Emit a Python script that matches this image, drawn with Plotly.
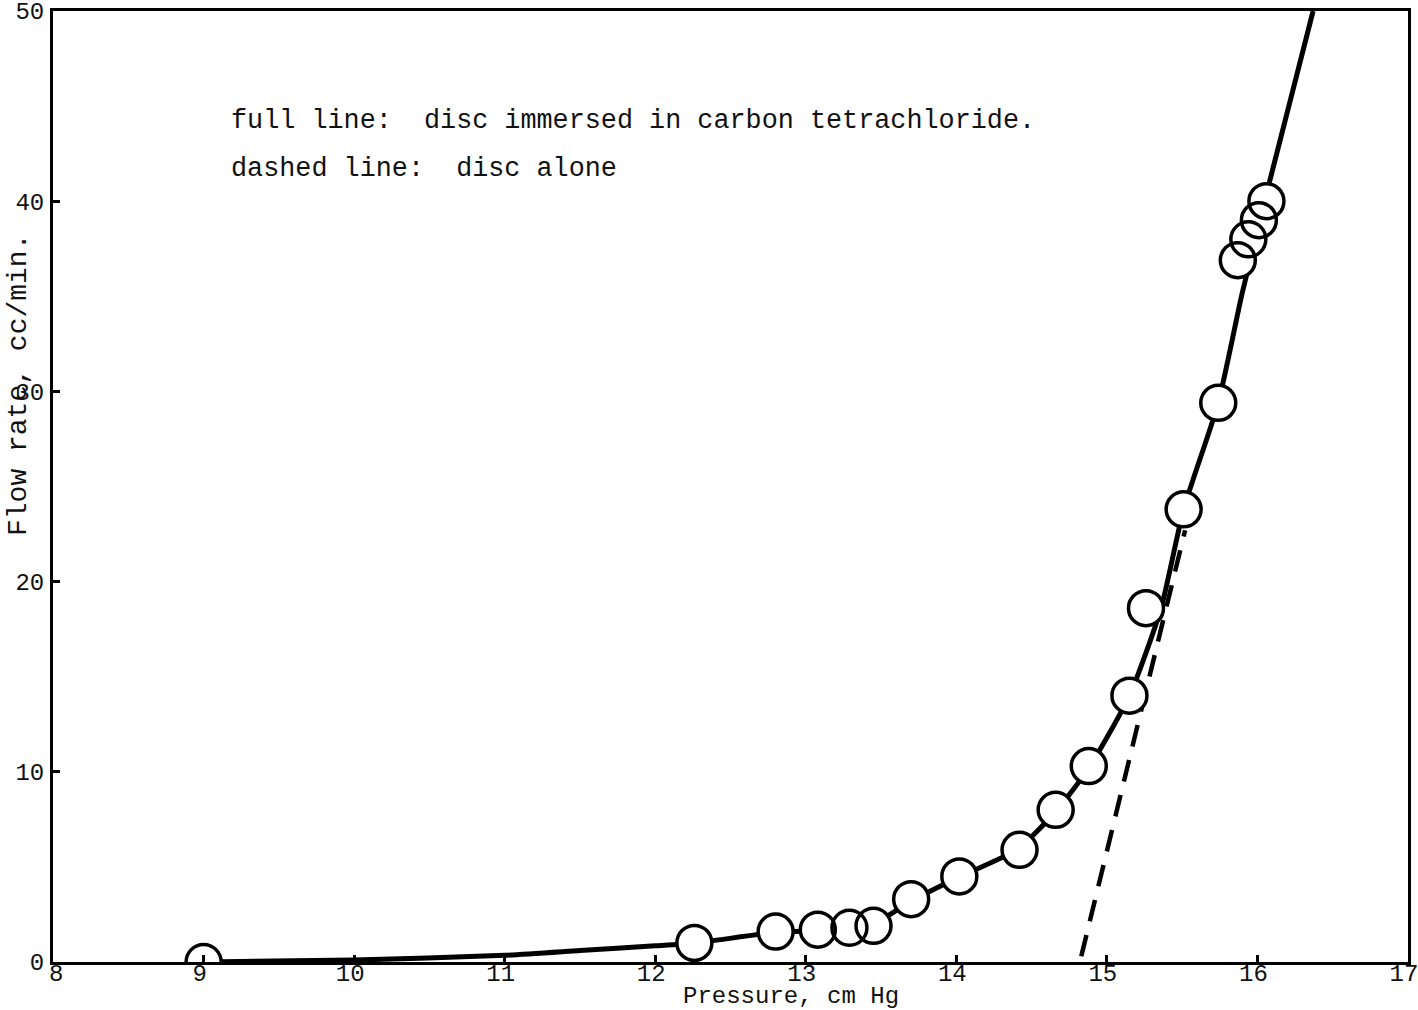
import plotly.graph_objects as go

# Measured points: disc immersed in carbon tetrachloride
pressure_pts = [9.0, 12.26, 12.80, 13.08, 13.29, 13.45, 13.70, 14.02, 14.42,
                14.66, 14.88, 15.15, 15.26, 15.51, 15.74, 15.87, 15.94, 16.01, 16.06]
flow_pts = [0.0, 1.0, 1.6, 1.7, 1.8, 1.9, 3.3, 4.5, 5.9,
            8.0, 10.3, 14.0, 18.6, 23.8, 29.4, 36.9, 38.0, 39.0, 40.0]

# Smooth curve drawn through the immersed-disc points (full line)
curve_pressure = [9.0, 10.0, 11.0, 11.5, 12.0, 12.26, 12.8, 13.1, 13.3, 13.45,
                  13.7, 14.0, 14.4, 14.66, 14.88, 15.15, 15.36, 15.51, 15.74,
                  15.90, 16.08, 16.37]
curve_flow = [0.0, 0.1, 0.35, 0.6, 0.85, 1.0, 1.55, 1.65, 1.8, 2.0,
              3.2, 4.4, 5.9, 7.9, 10.2, 14.0, 18.6, 23.8, 29.4,
              35.2, 41.0, 50.0]

# Disc alone (dashed line)
dashed_pressure = [14.83, 15.52]
dashed_flow = [0.3, 22.7]

x_ticks = [8, 9, 10, 11, 12, 13, 14, 15, 16, 17]
# the first label sits just right of the corner, clear of the y-axis "0"
x_ticktext = ["\u00a08", "9", "10", "11", "12", "13", "14", "15", "16", "17"]
y_ticks = [0, 10, 20, 30, 40, 50]

legend_lines = ["full line:  disc immersed in carbon tetrachloride.",
                "dashed line:  disc alone"]

FONT = "Liberation Mono, Courier New, monospace"
INK = "#111111"

W, H = 1418, 1010
ML, MR, MT, MB = 53, 10, 11, 48
plot_w = W - ML - MR
plot_h = H - MT - MB


def px_to_paper(px, py):
    """Convert a pixel position on the page to paper coordinates."""
    return (px - ML) / plot_w, 1 - (py - MT) / plot_h


fig = go.Figure()

fig.add_trace(go.Scatter(
    x=curve_pressure, y=curve_flow, mode="lines",
    line=dict(color="black", width=5, shape="spline", smoothing=0.6),
    hoverinfo="skip", showlegend=False))

fig.add_trace(go.Scatter(
    x=dashed_pressure, y=dashed_flow, mode="lines",
    line=dict(color="black", width=4.5, dash="22px,14px"),
    hoverinfo="skip", showlegend=False))

# white discs hide the curve inside each circle
fig.add_trace(go.Scatter(
    x=pressure_pts, y=flow_pts, mode="markers",
    marker=dict(symbol="circle", size=35, color="white", line=dict(width=0)),
    hoverinfo="skip", showlegend=False))

# circle outlines on top so overlapping rings stay visible
fig.add_trace(go.Scatter(
    x=pressure_pts, y=flow_pts, mode="markers",
    marker=dict(symbol="circle-open", size=35, color="black",
                line=dict(width=3.5, color="black")),
    showlegend=False))

for i, txt in enumerate(legend_lines):
    ax, ay = px_to_paper(229, 121 + 48 * i)
    fig.add_annotation(
        x=ax, y=ay, xref="paper", yref="paper",
        text=txt, showarrow=False, xanchor="left", yanchor="middle",
        font=dict(family=FONT, size=26.8, color=INK))

tx, ty = px_to_paper(791, 996)
fig.add_annotation(
    x=tx, y=ty, xref="paper", yref="paper",
    text="Pressure, cm Hg", showarrow=False, xanchor="center", yanchor="middle",
    font=dict(family=FONT, size=24, color=INK))

yx, yy = px_to_paper(18, 385)
fig.add_annotation(
    x=yx, y=yy, xref="paper", yref="paper",
    text="Flow rate, cc/min.", showarrow=False, textangle=-90,
    xanchor="center", yanchor="middle",
    font=dict(family=FONT, size=28, color=INK))

axis_common = dict(
    showline=True, linecolor="black", linewidth=3, mirror=True,
    ticks="inside", ticklen=7, tickwidth=3, tickcolor="black",
    showgrid=False, zeroline=False, automargin=False,
    ticklabeloverflow="allow",
    tickfont=dict(family=FONT, size=24, color=INK),
)

fig.update_layout(
    width=W, height=H,
    margin=dict(l=ML, r=MR, t=MT, b=MB, autoexpand=False),
    paper_bgcolor="white", plot_bgcolor="white",
    xaxis=dict(range=[7.9995, 17.0005], tickvals=x_ticks,
               ticktext=x_ticktext,
               ticklabelstandoff=-13, ticklabelshift=-4, **axis_common),
    yaxis=dict(range=[0, 50.0005], tickvals=y_ticks,
               ticktext=[str(v) for v in y_ticks],
               ticklabelstandoff=1, **axis_common),
)

fig.write_html("out.html")
